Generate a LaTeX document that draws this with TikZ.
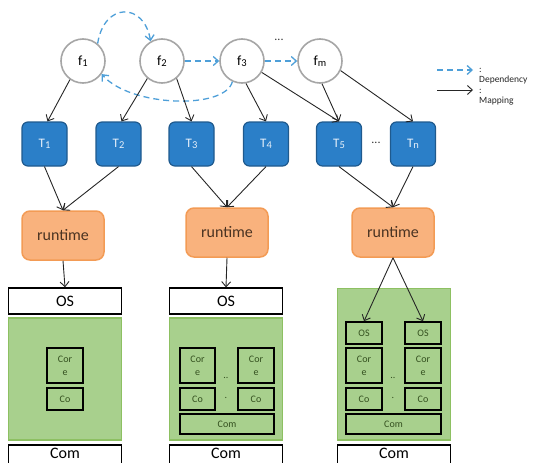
\documentclass[tikz,border=0pt]{standalone}
\usepackage{fontspec}
\setmainfont{Carlito}
\usetikzlibrary{arrows.meta}

\definecolor{fring}{HTML}{A6A6A6}
\definecolor{depblue}{HTML}{4E9FD8}
\definecolor{taskfill}{HTML}{2B7FC8}
\definecolor{taskline}{HTML}{1F5A8E}
\definecolor{tasktext}{HTML}{E6F0FA}
\definecolor{rtfill}{HTML}{F9B27D}
\definecolor{rtline}{HTML}{F39B55}
\definecolor{rttext}{HTML}{4A3322}
\definecolor{hwfill}{HTML}{A8D08D}
\definecolor{hwline}{HTML}{8DC062}
\definecolor{hwtext}{HTML}{34501F}

% small lowered index digit, as in f1, T1
\newcommand{\idx}[1]{{\fontsize{10.5}{10.5}\selectfont\raisebox{-0.8pt}{#1}}}

\begin{document}
\begin{tikzpicture}[x=1pt,y=-1pt,
  func/.style={circle,draw=fring,line width=1.6pt,fill=white,minimum size=44pt,
    inner sep=0pt,font=\fontsize{14}{14}\selectfont},
  task/.style={rounded corners=6pt,draw=taskline,line width=1.2pt,fill=taskfill,
    minimum width=45pt,minimum height=44pt,inner sep=0pt,text=tasktext,
    font=\fontsize{13}{13}\selectfont},
  rt/.style={rounded corners=8pt,draw=rtline,line width=1.5pt,fill=rtfill,
    minimum width=82pt,minimum height=49pt,inner sep=0pt,text=rttext,
    font=\fontsize{16}{16}\selectfont},
  layer/.style={draw=black,line width=1.8pt,fill=white,minimum width=113pt,
    minimum height=25.5pt,inner sep=0pt,font=\fontsize{16}{16}\selectfont},
  base/.style={layer,minimum height=20pt,text depth=4pt},
  hw/.style={draw=hwline,line width=1.5pt,fill=hwfill,inner sep=0pt,minimum width=113pt},
  part/.style={draw=black,line width=2pt,inner sep=0pt,text=hwtext,align=center,
    minimum width=35.5pt,font=\fontsize{10}{13}\selectfont},
  map/.style={-{Straight Barb[length=5pt,width=9pt]},line width=0.9pt,draw=black!85},
  dep/.style={-{Straight Barb[length=5pt,width=9pt]},line width=1.3pt,draw=depblue,
    dash pattern=on 6pt off 4pt},
  dots/.style={inner sep=0pt,text=black!80,font=\fontsize{12}{12}\selectfont},
  smalldots/.style={inner sep=0pt,text=hwtext,font=\fontsize{10}{10}\selectfont},
  legend/.style={anchor=west,inner sep=0pt,align=left,text=black!85,
    font=\fontsize{9.5}{9.5}\selectfont},
]
\useasboundingbox (0,0) rectangle (533,463);
\clip (0,0) rectangle (533,463);

% functions
\node[func] (f1) at (83,61) {f\idx{1}};
\node[func] (f2) at (162,61) {f\idx{2}};
\node[func] (f3) at (242,61) {f\idx{3}};
\node[func] (fm) at (320,61) {f\idx{m}};
\node[dots] (fdots) at (279,40) {...};

% tasks
\node[task] (T1) at (44.5,144) {T\idx{1}};
\node[task] (T2) at (118.5,144) {T\idx{2}};
\node[task] (T3) at (191.5,144) {T\idx{3}};
\node[task] (T4) at (266,144) {T\idx{4}};
\node[task] (T5) at (339,144) {T\idx{5}};
\node[task] (Tn) at (413,144) {T\idx{n}};
\node[dots] (tdots) at (376,143) {...};

% runtimes
\node[rt] (rt1) at (63,235.5) {runtime};
\node[rt] (rt2) at (227,232.5) {runtime};
\node[rt] (rt3) at (393,232.5) {runtime};

% column 1: single core
\node[layer] (os1) at (65,301) {OS};
\node[hw, minimum height=122pt] (hw1) at (65,379) {};
\node[part, minimum height=35pt] (core1) at (65,365.5) {Cor\\e};
\node[part, minimum height=22pt] (co1) at (65,399) {Co};
\node[base] (com1) at (65,455) {Com};

% column 2: multi core, one OS
\node[layer] (os2) at (226,301) {OS};
\node[hw, minimum height=122pt] (hw2) at (226,379) {};
\node[part, minimum height=35pt] (core2a) at (197.5,365.5) {Cor\\e};
\node[part, minimum height=35pt] (core2b) at (256,365.5) {Cor\\e};
\node[part, minimum height=22pt] (co2a) at (197.5,399) {Co};
\node[part, minimum height=22pt] (co2b) at (256,399) {Co};
\node[part, minimum height=20pt, minimum width=94pt] (com2in) at (227,424) {Com};
\node[smalldots] (d2a) at (226,378) {..};
\node[smalldots] (d2b) at (226,398) {.};
\node[base] (com2) at (226,455) {Com};

% column 3: multi core, one OS per core
\node[hw, minimum height=151.5pt] (hw3) at (394,364.25) {};
\node[part, minimum height=21.5pt] (os3a) at (364,333) {OS};
\node[part, minimum height=21.5pt] (os3b) at (423,333) {OS};
\node[part, minimum height=35pt] (core3a) at (364,365.5) {Cor\\e};
\node[part, minimum height=35pt] (core3b) at (423,365.5) {Cor\\e};
\node[part, minimum height=22pt] (co3a) at (364,399) {Co};
\node[part, minimum height=22pt] (co3b) at (423,399) {Co};
\node[part, minimum height=20pt, minimum width=95pt] (com3in) at (393.5,424) {Com};
\node[smalldots] (d3a) at (393,378) {..};
\node[smalldots] (d3b) at (393,398) {.};
\node[base] (com3) at (394,455) {Com};

% dependencies between functions
\draw[dep] (f1.50) .. controls (104,2) and (144,2) .. (f2.120);
\draw[dep] (f2) -- (f3);
\draw[dep] (f3) -- (fm);
\draw[dep] (f3.245) .. controls (225,110) and (130,107) .. (f1.-35);

% function to task mapping
\draw[map] (f1.235) -- ([xshift=3pt]T1.north);
\draw[map] (f2.230) -- ([xshift=3pt]T2.north);
\draw[map] (f2.-50) -- (T3.north);
\draw[map] (f3.-80) -- (T4.north);
\draw[map] (f3.-30) -- (T5.north);
\draw[map] (fm.-85) -- (T5.north);
\draw[map] (fm.-25) -- (Tn.north);

% tasks to runtimes
\draw[map] (T1.south) -- (rt1.north);
\draw[map] (T2.south) -- (rt1.north);
\draw[map] (T3.south) -- (rt2.north);
\draw[map] (T4.south) -- (rt2.north);
\draw[map] (T5.south) -- (rt3.north);
\draw[map] (Tn.south) -- (rt3.north);

% runtimes to operating systems
\draw[map] (rt1.south) -- (os1.north);
\draw[map] (rt2.south) -- (os2.north);
\draw[map] (rt3.south) -- (os3a.north);
\draw[map] (rt3.south) -- (os3b.north);

% legend
\coordinate (depS) at (437,70);
\coordinate (depE) at (473,70);
\draw[dep] (depS) -- (depE);
\node[legend] (depL) at (479,76) {:\\Dependency};
\coordinate (mapS) at (437,90);
\coordinate (mapE) at (473,90);
\draw[map] (mapS) -- (mapE);
\node[legend] (mapL) at (479,97) {:\\Mapping};
\end{tikzpicture}
\end{document}
